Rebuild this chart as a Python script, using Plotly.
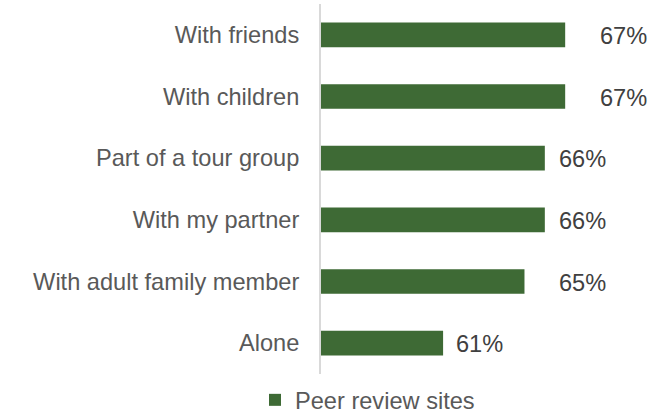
import plotly.graph_objects as go

categories = ["With friends", "With children", "Part of a tour group",
              "With my partner", "With adult family member", "Alone"]
values = [67, 67, 66, 66, 65, 61]
labels = ["67%", "67%", "66%", "66%", "65%", "61%"]
series_name = "Peer review sites"

# style: horizontal gap between bar end and its label (px)
label_gaps = [33, 33, 12, 12, 33, 11]

W, H = 669, 414
FONT = "Liberation Sans, Arial, sans-serif"
FS = 23.6

fig = go.Figure()
fig.add_trace(go.Bar(
    y=categories, x=values, orientation="h", name=series_name,
    marker=dict(color="#3E6A35", line=dict(width=0)),
    hoverinfo="skip",
))

for c, v, t, g in zip(categories, values, labels, label_gaps):
    fig.add_annotation(x=v, y=c, xref="x", yref="y", text=t, showarrow=False,
                       xanchor="left", yanchor="middle", xshift=g, yshift=-1,
                       font=dict(family=FONT, size=FS, color="#404040"))

fig.update_layout(
    width=W, height=H,
    margin=dict(l=321, r=9, t=4, b=40, autoexpand=False),
    paper_bgcolor="white", plot_bgcolor="white",
    bargap=0.6,
    showlegend=True,
    legend=dict(orientation="h", xref="container", yref="container",
                x=255 / W, xanchor="left", y=14 / H, yanchor="middle",
                font=dict(family=FONT, size=FS, color="#595959"),
                bgcolor="rgba(0,0,0,0)"),
    font=dict(family=FONT, size=FS, color="#595959"),
)
fig.update_xaxes(range=[55, 71.66], showticklabels=False, showgrid=False,
                 zeroline=False, showline=False, fixedrange=True,
                 automargin=False)
fig.update_yaxes(categoryorder="array", categoryarray=categories[::-1],
                 showgrid=False, zeroline=False, showline=True,
                 linecolor="#D9D9D9", linewidth=2, ticks="",
                 ticklabelstandoff=15, automargin=False,
                 tickfont=dict(family=FONT, size=FS, color="#595959"))

fig.write_html("out.html", config={"displayModeBar": False},
               post_script="document.body.style.margin='0px';")
